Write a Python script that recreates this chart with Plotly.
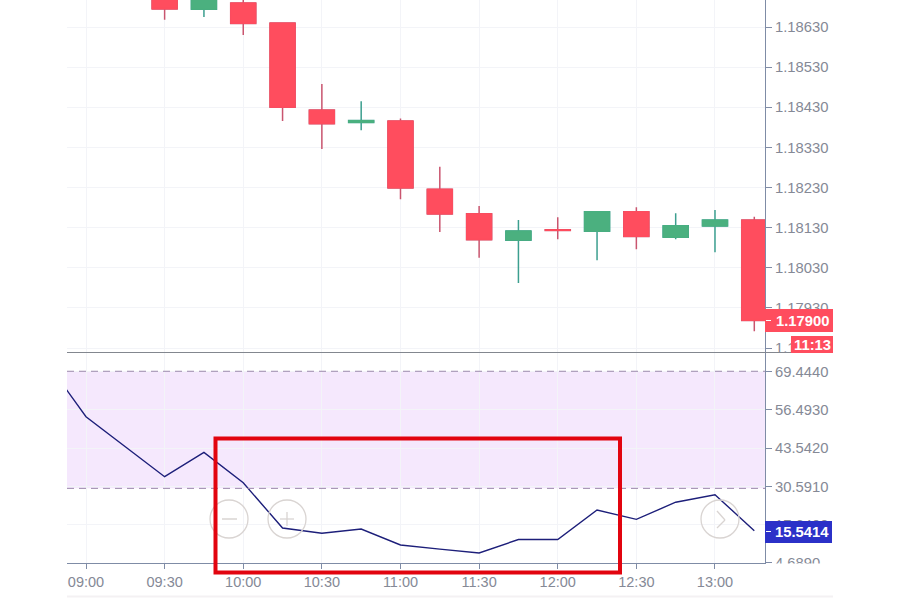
import plotly.graph_objects as go
from plotly.subplots import make_subplots

# ---------- data ----------
candle_times = ["2021-03-01 09:30", "2021-03-01 09:45", "2021-03-01 10:00", "2021-03-01 10:15",
                "2021-03-01 10:30", "2021-03-01 10:45", "2021-03-01 11:00", "2021-03-01 11:15",
                "2021-03-01 11:30", "2021-03-01 11:45", "2021-03-01 12:00", "2021-03-01 12:15",
                "2021-03-01 12:30", "2021-03-01 12:45", "2021-03-01 13:00", "2021-03-01 13:15"]
opens  = [1.18720, 1.18674, 1.18690, 1.18640, 1.18423, 1.18392, 1.18396, 1.18226,
          1.18165, 1.18099, 1.18125, 1.18121, 1.18170, 1.18106, 1.18134, 1.18149]
closes = [1.18675, 1.18715, 1.18639, 1.18430, 1.18389, 1.18397, 1.18229, 1.18164,
          1.18100, 1.18122, 1.18123, 1.18170, 1.18108, 1.18135, 1.18149, 1.17899]
highs  = [1.18730, 1.18730, 1.18700, 1.18640, 1.18488, 1.18445, 1.18402, 1.18282,
          1.18184, 1.18149, 1.18156, 1.18171, 1.18181, 1.18166, 1.18174, 1.18157]
lows   = [1.18648, 1.18655, 1.18610, 1.18396, 1.18326, 1.18373, 1.18201, 1.18119,
          1.18055, 1.17992, 1.18101, 1.18049, 1.18076, 1.18101, 1.18069, 1.17872]

rsi_times = ["2021-03-01 08:45", "2021-03-01 09:00", "2021-03-01 09:15"] + candle_times
rsi_values = [72.7, 54.2, 44.0, 33.85, 42.1, 31.8, 16.45, 14.66, 16.1, 10.7, 9.3, 8.0,
              12.55, 12.55, 22.55, 19.4, 25.2, 27.75, 15.54]

price_ticks = [1.18630, 1.18530, 1.18430, 1.18330, 1.18230, 1.18130, 1.18030, 1.17930, 1.17830]
price_labels = ["1.18630", "1.18530", "1.18430", "1.18330", "1.18230", "1.18130", "1.18030", "1.17930", "1.17830"]
rsi_ticks = [69.444, 56.493, 43.542, 30.591, 17.64, 4.689]
rsi_labels = ["69.4440", "56.4930", "43.5420", "30.5910", "17.6400", "4.6890"]
time_ticks = ["2021-03-01 09:00", "2021-03-01 09:30", "2021-03-01 10:00", "2021-03-01 10:30",
              "2021-03-01 11:00", "2021-03-01 11:30", "2021-03-01 12:00", "2021-03-01 12:30",
              "2021-03-01 13:00"]
time_labels = ["09:00", "09:30", "10:00", "10:30", "11:00", "11:30", "12:00", "12:30", "13:00"]
band_low, band_high = 29.9, 69.6
last_price_label = "1.17900"
timer_label = "11:13"
last_rsi_label = "15.5414"

# ---------- styles ----------
W, H = 900, 600
RED, GREEN = "#ff4d5e", "#4bb07f"
RED_WICK, GREEN_WICK = "#c9556f", "#3c9f8f"
AXIS = "#7f8ca6"
TEXT = "#858996"
GRID = "#f3f4f8"
FONT = "Liberation Sans, Arial, sans-serif"
L, R = 67, 765
px = lambda x: x / W
py = lambda y: 1 - y / H

fig = make_subplots(rows=2, cols=1, shared_xaxes=False)

body_top = [max(o, c) for o, c in zip(opens, closes)]
body_bot = [min(o, c) for o, c in zip(opens, closes)]

# wicks, then the bodies drawn over them
fig.add_trace(go.Candlestick(x=candle_times, open=opens, high=highs, low=lows, close=closes,
                             increasing=dict(line=dict(color=GREEN_WICK, width=1.5), fillcolor=GREEN),
                             decreasing=dict(line=dict(color=RED_WICK, width=1.5), fillcolor=RED),
                             whiskerwidth=0, showlegend=False), row=1, col=1)
fig.add_trace(go.Candlestick(x=candle_times, open=opens, high=body_top, low=body_bot, close=closes,
                             increasing=dict(line=dict(color=GREEN, width=1), fillcolor=GREEN),
                             decreasing=dict(line=dict(color=RED, width=1), fillcolor=RED),
                             whiskerwidth=0, showlegend=False), row=1, col=1)
fig.add_trace(go.Scatter(x=rsi_times, y=rsi_values, mode="lines",
                         line=dict(color="#1d1f7a", width=1.4), showlegend=False), row=2, col=1)

x_range = ["2021-03-01 08:52:45", "2021-03-01 13:19:05"]
xcommon = dict(range=x_range, type="date", tickvals=time_ticks, ticktext=time_labels, showgrid=True,
               gridcolor=GRID, gridwidth=1, zeroline=False, rangeslider=dict(visible=False),
               domain=[px(L), px(R)], automargin=False)
fig.update_xaxes(**xcommon, showticklabels=False, ticks="", showline=False, row=1, col=1)
fig.update_xaxes(**xcommon, showticklabels=True, ticks="outside", ticklen=5, tickcolor=AXIS,
                 showline=True, linecolor=AXIS, linewidth=1,
                 tickfont=dict(family=FONT, size=14.5, color=TEXT), row=2, col=1)
ycommon = dict(side="right", showgrid=True, gridcolor=GRID, gridwidth=1, zeroline=False, ticks="outside",
               ticklen=6, tickcolor=AXIS, showline=True, linecolor=AXIS, linewidth=1, automargin=False,
               tickfont=dict(family=FONT, size=14.8, color=TEXT))
fig.update_yaxes(**ycommon, range=[1.178203, 1.186973], tickvals=price_ticks, ticktext=price_labels,
                 domain=[py(352), 1], row=1, col=1)
fig.update_yaxes(**ycommon, range=[4.49, 75.8], tickvals=rsi_ticks, ticktext=rsi_labels,
                 domain=[py(563.3), py(353)], row=2, col=1)


def rect(x0, y0, x1, y1, **kw):
    return dict(type="rect", xref="paper", yref="paper", x0=px(x0), x1=px(x1), y0=py(y0), y1=py(y1), **kw)


def seg(x0, y0, x1, y1, color, width=1):
    return dict(type="line", xref="paper", yref="paper", x0=px(x0), x1=px(x1), y0=py(y0), y1=py(y1),
                line=dict(color=color, width=width))


def ring(cx, cy, r=19):
    return dict(type="circle", xref="paper", yref="paper", x0=px(cx - r), x1=px(cx + r), y0=py(cy + r),
                y1=py(cy - r), line=dict(color="#d9d4d2", width=1.3), fillcolor="rgba(255,255,255,0)")


BTN = "#d9d4d2"
shapes = [
    # overbought / oversold band
    dict(type="rect", xref="x2 domain", yref="y2", x0=0, x1=1, y0=band_low, y1=band_high,
         fillcolor="#f5e8fd", line=dict(width=0), layer="below"),
    dict(type="line", xref="x2 domain", yref="y2", x0=0, x1=1, y0=band_high, y1=band_high,
         line=dict(color="#9c88ac", width=1, dash="7px,5px")),
    dict(type="line", xref="x2 domain", yref="y2", x0=0, x1=1, y0=band_low, y1=band_low,
         line=dict(color="#9c88ac", width=1, dash="7px,5px")),
    # pane separator and foot rule
    seg(L, 352.5, 833, 352.5, "#83878f", 1),
    seg(L, 596.5, 833, 596.5, "#f4f1f3", 2),
    # clip of the lowest axis label
    rect(766, 563.5, 840, 575, fillcolor="white", line=dict(width=0)),
    # toolbar buttons
    ring(229, 519), seg(222, 519, 237, 519, BTN, 1.5),
    ring(287, 519), seg(280, 519, 294, 519, BTN, 1.3), seg(287, 512, 287, 526, BTN, 1.3),
    ring(720, 519), seg(717, 511, 725, 520, BTN, 1.3), seg(725, 520, 717, 528, BTN, 1.3),
    # red highlight box
    rect(215.5, 438.5, 620, 572.5, line=dict(color="#e2040f", width=4), fillcolor="rgba(0,0,0,0)"),
    # price and indicator badges
    rect(765, 309, 833, 332, fillcolor=RED, line=dict(width=0)),
    rect(791, 336, 833, 353, fillcolor=RED, line=dict(width=0)),
    rect(765, 521, 832, 543, fillcolor="#2b31c8", line=dict(width=0)),
    seg(766, 320.5, 771, 320.5, "white", 1),
    seg(766, 531.5, 771, 531.5, "white", 1),
]


def badge(text, x, y, size=14.8):
    return dict(text=f"<b>{text}</b>", xref="paper", yref="paper", x=px(x), y=py(y), xanchor="center",
                yanchor="middle", showarrow=False, font=dict(family=FONT, size=size, color="white"))


annotations = [badge(last_price_label, 802.5, 320.5), badge(timer_label, 812, 345),
               badge(last_rsi_label, 802, 532)]

fig.update_layout(width=W, height=H, margin=dict(l=0, r=0, t=0, b=0), paper_bgcolor="white",
                  plot_bgcolor="white", boxgap=0.36, boxgroupgap=0, boxmode="overlay", showlegend=False,
                  shapes=shapes, annotations=annotations, font=dict(family=FONT))

fig.write_html("out.html", post_script="document.body.style.margin='0';", config={"displayModeBar": False})
